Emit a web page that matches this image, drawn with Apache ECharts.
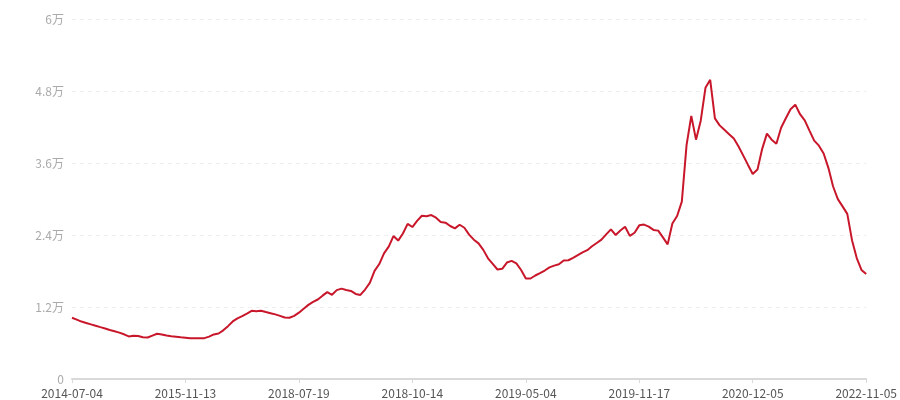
<!DOCTYPE html>
<html>
<head>
<meta charset="utf-8">
<script src="https://cdn.jsdelivr.net/npm/echarts@6/dist/echarts.min.js"></script>
<style>html,body{margin:0;padding:0;background:#fff}#c{width:900px;height:400px}</style>
</head>
<body>
<div id="c"></div>
<script>
// Tick label dates shown on the x axis (every 24th category)
const labelDates = ['2014-07-04','2015-11-13','2018-07-19','2018-10-14','2019-05-04','2019-11-17','2020-12-05','2022-11-05'];
const labelStep = 24;

// Series values
const values = [
10200,9890,9570,9340,9110,8880,8640,8410,8180,7960,
7730,7450,7100,7200,7160,6950,6910,7230,7550,7430,
7250,7140,7060,6960,6880,6780,6780,6800,6810,7060,
7430,7580,8110,8810,9590,10100,10470,10900,11370,11290,
11380,11170,10970,10770,10520,10250,10200,10520,11050,11720,
12350,12850,13250,13890,14480,14030,14810,15060,14840,14680,
14180,14010,14910,16010,18030,19160,20940,22070,23820,23070,
24250,25860,25330,26360,27210,27140,27320,26890,26180,26060,
25500,25100,25710,25210,24070,23220,22600,21520,20110,19180,
18250,18370,19410,19680,19260,18170,16740,16750,17250,17650,
18080,18600,18900,19110,19760,19790,20190,20660,21110,21470,
22120,22670,23220,24100,24930,24000,24760,25380,23850,24370,
25610,25740,25400,24850,24730,23600,22440,25910,27170,29570,
38970,43860,39890,43050,48530,49860,43430,42270,41530,40800,
40070,38760,37230,35680,34170,34900,38360,40890,39890,39220,
41870,43450,44970,45720,44130,43110,41400,39740,38890,37580,
35190,32080,29980,28770,27520,23140,20160,18180,17500
];

// Build category dates: label dates at every labelStep-th slot, dates between spread evenly
function pad(n){return (n<10?'0':'')+n;}
function fmt(d){return d.getUTCFullYear()+'-'+pad(d.getUTCMonth()+1)+'-'+pad(d.getUTCDate());}
const categories = [];
for (let s = 0; s < labelDates.length - 1; s++) {
  const a = Date.parse(labelDates[s] + 'T00:00:00Z');
  const b = Date.parse(labelDates[s + 1] + 'T00:00:00Z');
  for (let k = 0; k < labelStep; k++) {
    categories.push(k === 0 ? labelDates[s] : fmt(new Date(a + (b - a) * k / labelStep)));
  }
}
categories.push(labelDates[labelDates.length - 1]);

const chart = echarts.init(document.getElementById('c'), null, {renderer: 'canvas'});
chart.setOption({
  animation: false,
  grid: {left: 72, right: 31, top: 19, bottom: 21, containLabel: false},
  xAxis: {
    type: 'category',
    data: categories,
    boundaryGap: false,
    axisLine: {lineStyle: {color: '#d9d9d9', width: 2}},
    axisTick: {show: true, interval: labelStep - 1, length: 4, lineStyle: {color: '#d9d9d9'}},
    axisLabel: {
      interval: labelStep - 1,
      color: '#555',
      fontSize: 12,
      margin: 8,
      fontFamily: '"Noto Sans CJK SC", "Noto Sans", sans-serif'
    },
    splitLine: {show: false}
  },
  yAxis: {
    type: 'value',
    min: 0,
    max: 60000,
    interval: 12000,
    axisLine: {show: false},
    axisTick: {show: false},
    axisLabel: {
      color: '#aaa',
      fontSize: 12,
      margin: 8,
      fontFamily: '"Noto Sans CJK SC", "Noto Sans", sans-serif',
      formatter: function (v) { return v === 0 ? '0' : (v / 10000) + '万'; }
    },
    splitLine: {show: true, lineStyle: {color: '#eee', type: [4, 4], width: 1}}
  },
  series: [{
    type: 'line',
    data: values,
    showSymbol: false,
    symbol: 'none',
    lineStyle: {color: '#c8172b', width: 2},
    itemStyle: {color: '#c8172b'}
  }]
});
</script>
</body>
</html>
